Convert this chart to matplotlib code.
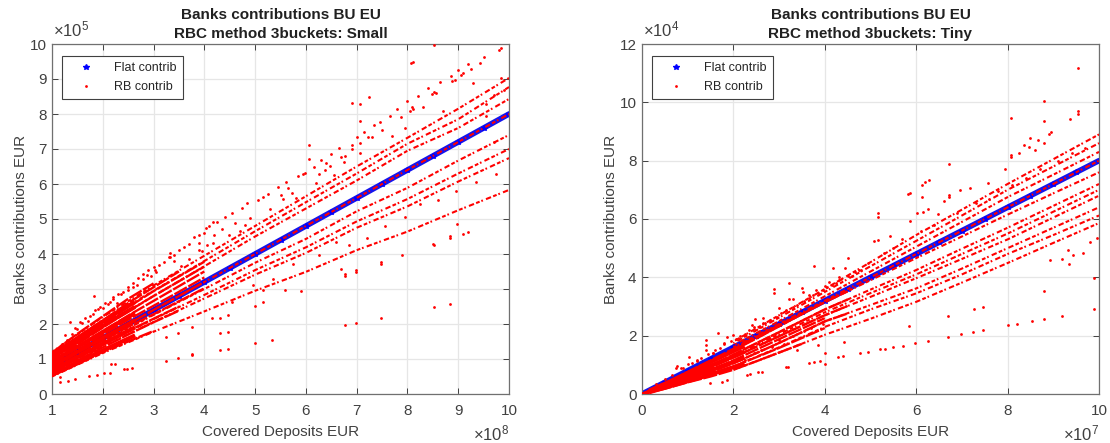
import matplotlib
matplotlib.use("Agg")
import matplotlib.pyplot as plt

plt.rcParams['font.family'] = ['Liberation Sans', 'DejaVu Sans']
plt.rcParams['mathtext.default'] = 'regular'

W, H = 1110, 443
nan = float("nan")

# ---- left panel, x in 1e8, y in 1e5
small_flat_x = [1, 1.5, 2, 2.5, 3, 3.5, 4, 4.5, 5, 5.5, 6, 6.5, 7, 7.5, 8, 8.5, 9, 9.5, 10]
small_flat_y = [0.8, 1.2, 1.6, 2.0, 2.4, 2.8, 3.2, 3.6, 4.0, 4.4, 4.8, 5.2, 5.6, 6.0, 6.4, 6.8, 7.2, 7.6, 8.0]

small_ray_x = [1, 2, 3, 4, 5, 6, 7, 8, 9, 10]
small_rays = [
    [0.50, 1.17, 1.78, 2.36, 2.95, 3.49, 4.11, 4.64, 5.25, 5.83],
    [0.58, 1.35, 2.06, 2.73, 3.41, 4.03, 4.75, 5.36, 6.07, 6.74],
    [0.60, 1.40, 2.14, 2.83, 3.54, 4.19, 4.93, 5.57, 6.30, 7.00],
    [0.64, 1.49, 2.26, 3.00, 3.75, 4.43, 5.22, 5.89, 6.67, 7.40],
    [0.80, 1.60, 2.40, 3.20, 4.00, 4.80, 5.60, 6.40, 7.20, 8.00],
    [1.00, 1.95, 2.80, 3.65, 4.50, 5.30, 6.10, 6.95, 7.60, 8.43],
    [1.10, 2.10, 2.95, 3.80, 4.65, 5.48, 6.30, 7.15, 7.85, 8.77],
    [1.20, 2.20, 3.10, 3.95, 4.80, 5.65, 6.50, 7.32, 8.15, 9.03],
]
small_dense_x = [1, 1.5, 2, 2.5, 3, 3.5, 4]
small_dense = [
    [0.52, 0.85, 1.20, 1.50, 1.80, nan, nan],
    [0.56, 0.95, 1.33, 1.70, 2.05, 2.38, nan],
    [0.60, 1.02, 1.42, 1.80, 2.15, 2.50, nan],
    [0.66, 1.10, 1.52, 1.92, 2.28, 2.65, 3.02],
    [0.72, 1.18, 1.60, 2.00, 2.40, 2.80, 3.20],
    [0.78, 1.25, 1.70, 2.12, 2.52, 2.92, 3.33],
    [0.85, 1.34, 1.80, 2.24, 2.66, 3.08, 3.50],
    [0.92, 1.42, 1.90, 2.36, 2.80, 3.22, 3.64],
    [1.00, 1.52, 2.00, 2.48, 2.94, 3.36, 3.78],
    [1.08, 1.62, 2.10, 2.60, 3.05, 3.50, nan],
    [1.18, 1.72, 2.22, 2.72, 3.16, nan, nan],
]
small_core_x = [1, 1.4, 1.8, 2.2, 2.6]
small_core = [
    [0.55, 0.82, 1.10, 1.38, 1.65],
    [0.68, 0.98, 1.28, 1.58, 1.88],
    [0.80, 1.12, 1.44, 1.76, 2.08],
    [0.92, 1.26, 1.60, 1.94, 2.28],
    [1.04, 1.40, 1.76, 2.12, 2.46],
    [1.12, 1.50, 1.88, 2.26, 2.60],
]
small_x = [8.53, 9.84, 8.10, 8.07, 9.43, 9.26, 9.10, 9.05, 8.93, 8.88, 9.30, 9.84, 8.52, 8.48, 8.56, 7.24, 6.90, 7.06, 7.06,
           8.08, 8.05, 8.11, 7.88, 6.06, 6.06, 5.98, 6.90, 6.90, 7.06, 7.22, 7.31, 7.06, 6.70, 6.78, 6.47, 6.37, 6.26, 5.72, 5.55,
           8.97, 9.10, 9.20, 8.84, 8.84, 8.50, 8.53, 7.89, 7.48, 7.48, 6.98, 6.98, 6.78, 6.78, 6.70, 8.52, 8.84, 7.48, 6.98, 6.78, 5.58, 5.90,
           4.17, 4.03, 4.80, 4.90, 4.48, 3.89, 3.89, 3.32, 3.32, 4.17, 4.05, 3.90, 3.03, 2.87, 2.67, 1.83, 1.75, 1.35, 2.14, 2.28,
           5.00, 5.00, 5.33, 5.16, 5.16, 4.30, 4.46, 4.30, 4.46, 4.30, 4.46, 3.76, 3.76, 3.48, 3.24, 3.76, 3.48, 3.24,
           2.58, 2.47, 2.42, 2.24, 2.16, 2.14, 2.03, 1.89, 1.73, 1.45, 1.32, 1.16, 1.16,
           3.05, 2.95, 2.80, 2.60, 2.50, 2.35, 2.20, 2.05, 1.95, 1.85, 1.65, 1.55, 1.45, 1.25, 3.40, 3.55, 3.70, 3.95, 4.20, 4.35, 4.60, 4.70,
           5.30, 5.50, 5.65, 5.80, 6.20, 6.40, 6.55, 6.75, 7.50, 7.70, 7.95, 8.30, 8.70, 9.55, 9.70, 9.90, 9.55, 9.70,
           1.20, 1.30, 1.40, 1.50, 1.60, 1.70, 1.80, 1.90, 2.00, 2.10, 2.20, 2.30, 2.40, 2.50, 2.60, 2.70, 2.80, 2.90, 3.00, 3.10,
           3.20, 3.30, 3.40, 3.50, 3.60, 3.70, 3.80, 4.00, 4.10, 4.25, 4.40, 4.55, 4.75, 4.85, 5.05, 5.15, 5.25, 5.45, 5.60, 5.85,
           5.95, 6.15, 6.30, 6.50, 6.65, 7.00, 7.15, 7.35, 7.45, 7.65, 7.80, 8.00, 8.20, 8.40, 8.65, 8.85, 9.00, 9.20, 9.50, 9.80,
           4.15, 4.55, 4.95, 5.35, 5.75, 6.25, 6.60, 6.85, 7.20, 7.55, 7.95, 8.25, 8.60, 8.95, 9.35, 9.75]
small_y = [9.98, 9.88, 9.49, 9.46, 9.46, 9.30, 9.16, 9.12, 8.97, 8.94, 8.90, 9.03, 8.63, 8.58, 8.60, 8.48, 8.31, 8.28, 7.81,
           8.20, 8.10, 8.14, 7.92, 7.11, 6.71, 6.31, 7.11, 7.00, 7.17, 7.34, 7.35, 6.88, 6.77, 6.80, 6.51, 6.40, 6.29, 5.75, 5.57,
           4.86, 4.57, 4.63, 4.46, 4.52, 4.29, 4.25, 3.97, 3.77, 3.72, 3.54, 3.50, 3.43, 3.38, 3.57, 2.49, 2.58, 2.18, 2.03, 1.98, 2.97, 2.95,
           4.92, 4.74, 4.83, 5.02, 4.54, 4.54, 4.31, 4.03, 3.91, 4.31, 4.25, 4.12, 3.54, 3.40, 3.11, 2.80, 2.23, 2.07, 2.64, 2.60,
           2.51, 1.47, 1.54, 2.97, 2.64, 2.17, 2.26, 1.74, 1.78, 1.26, 1.29, 1.11, 1.92, 1.03, 0.95, 1.15, 1.74, 1.64,
           0.75, 0.71, 0.71, 0.86, 0.86, 0.61, 0.60, 0.54, 0.51, 0.43, 0.38, 0.34, 0.49,
           3.50, 3.38, 3.28, 3.05, 2.98, 2.85, 2.78, 2.60, 2.50, 2.40, 2.18, 2.05, 1.90, 1.70, 3.80, 3.65, 3.85, 4.10, 4.55, 4.72, 4.90, 4.66,
           5.30, 5.70, 5.88, 5.60, 6.02, 6.60, 6.25, 6.62, 7.55, 7.38, 7.60, 8.20, 8.10, 8.30, 8.55, 8.70, 7.95, 7.20,
           1.42, 1.55, 1.72, 1.85, 2.02, 2.10, 2.30, 2.42, 2.45, 2.58, 2.72, 2.85, 2.92, 3.05, 3.18, 3.32, 3.42, 3.55, 3.62, 3.68,
           3.78, 3.92, 3.98, 4.12, 4.20, 4.30, 4.48, 4.60, 4.80, 4.92, 5.05, 5.18, 5.32, 5.45, 5.55, 5.62, 5.72, 5.92, 6.05, 6.22,
           6.30, 6.50, 6.70, 6.85, 7.02, 7.35, 7.50, 7.68, 7.78, 7.95, 8.15, 8.38, 8.52, 8.75, 8.92, 9.10, 9.25, 9.42, 9.62, 9.82,
           2.18, 2.62, 3.12, 3.28, 3.72, 3.98, 4.35, 4.25, 4.45, 4.80, 5.05, 5.42, 5.55, 5.80, 6.05, 6.30]

# ---- right panel, x in 1e7, y in 1e4
tiny_flat_x = [0, 0.5, 1, 1.5, 2, 2.5, 3, 3.5, 4, 4.5, 5, 5.5, 6, 6.5, 7, 7.5, 8, 8.5, 9, 9.5, 10]
tiny_flat_y = [0, 0.4, 0.8, 1.2, 1.6, 2.0, 2.4, 2.8, 3.2, 3.6, 4.0, 4.4, 4.8, 5.2, 5.6, 6.0, 6.4, 6.8, 7.2, 7.6, 8.0]

tiny_ray_x = [2, 3, 4, 5, 6, 7, 8, 9, 10]
tiny_rays = [
    [0.83, 1.42, 2.03, 2.58, 3.16, 3.82, 4.49, 5.18, 5.86],
    [0.95, 1.60, 2.30, 2.90, 3.45, 4.10, 4.80, 5.45, 6.12],
    [1.05, 1.75, 2.49, 3.05, 3.62, 4.30, 5.00, 5.70, 6.40],
    [1.25, 1.98, 2.70, 3.33, 3.97, 4.63, 5.30, 6.05, 6.80],
    [1.30, 2.05, 2.80, 3.46, 4.10, 4.80, 5.50, 6.25, 7.00],
    [1.35, 2.12, 2.90, 3.58, 4.25, 4.98, 5.70, 6.45, 7.20],
    [1.50, 2.32, 3.15, 3.90, 4.66, 5.40, 6.15, 6.88, 7.60],
    [1.60, 2.40, 3.20, 4.00, 4.80, 5.60, 6.40, 7.20, 8.00],
    [1.67, 2.50, 3.35, 4.20, 5.05, 5.90, 6.75, 7.52, 8.30],
    [1.74, 2.62, 3.50, 4.38, 5.25, 6.12, 7.00, 7.80, 8.60],
    [1.80, 2.70, 3.60, 4.52, 5.45, 6.32, 7.20, 8.05, 8.90],
]
tiny_dense_x = [0, 0.5, 1, 1.5, 2, 2.5, 3, 3.5, 4, 4.5]
tiny_dense = [
    [0, 0.18, 0.40, 0.60, 0.83, 1.12, 1.42, 1.72, nan, nan],
    [0, 0.20, 0.45, 0.68, 0.94, 1.26, 1.58, 1.92, 2.26, nan],
    [0, 0.22, 0.50, 0.75, 1.05, 1.40, 1.75, 2.12, 2.49, 2.76],
    [0, 0.24, 0.54, 0.82, 1.15, 1.52, 1.88, 2.24, 2.60, nan],
    [0, 0.26, 0.58, 0.90, 1.25, 1.62, 1.98, 2.34, 2.70, 3.02],
    [0, 0.29, 0.64, 0.98, 1.35, 1.74, 2.12, 2.51, 2.90, 3.24],
    [0, 0.33, 0.72, 1.10, 1.50, 1.90, 2.32, 2.74, 3.15, 3.52],
    [0, 0.36, 0.76, 1.15, 1.55, 1.96, 2.36, 2.76, nan, nan],
]
tiny_core_x = [0.2, 0.6, 1, 1.4, 1.8, 2.2]
tiny_core = [
    [0.08, 0.26, 0.44, 0.62, 0.82, 1.02],
    [0.10, 0.31, 0.54, 0.76, 0.98, 1.22],
    [0.12, 0.37, 0.64, 0.90, 1.16, 1.42],
    [0.14, 0.42, 0.72, 1.02, 1.32, 1.62],
]
tiny_x = [9.55, 8.80, 9.55, 9.55, 8.80, 9.37, 8.07, 8.95, 8.90, 8.49, 8.67, 8.80, 8.47, 8.35, 8.07, 8.07, 8.25, 8.60, 6.72, 7.94,
          6.28, 6.19, 6.13, 5.86, 5.82, 6.13, 6.72, 6.72, 7.18, 6.96, 7.57, 6.61, 6.26, 6.15, 6.02, 6.48, 5.86, 5.16, 5.16, 5.43, 5.16, 5.08,
          3.76, 4.51, 4.18, 2.89, 2.89, 3.22, 3.22, 3.50, 3.52, 4.30, 4.10, 4.45, 4.00, 1.66, 1.40, 1.40, 1.40, 1.03, 0.77, 2.65, 2.65, 2.48, 1.86,
          3.20, 3.15, 3.66, 3.76, 3.90, 4.00, 4.00, 4.29, 4.40, 4.42, 2.63, 2.54, 2.36, 2.30, 1.86, 1.75, 1.49, 3.85, 3.39,
          5.84, 6.70, 7.26, 7.46, 6.70, 6.98, 7.24, 7.46, 8.00, 8.20, 8.53, 8.80, 9.19, 9.89, 9.89, 8.80,
          6.26, 5.97, 5.71, 5.49, 5.32, 5.21, 4.95, 4.77, 9.34, 9.19, 8.93, 9.43, 9.32, 9.65, 9.80, 9.95,
          4.60, 4.80, 4.95, 5.30, 5.50, 5.70, 6.10, 6.40, 6.90, 7.30, 7.60, 7.80, 8.10, 8.40, 8.70, 9.10, 9.40, 9.70,
          3.00, 3.30, 3.65, 3.80, 4.30, 2.40, 2.00, 1.80, 1.55, 1.20, 0.90,
          0.30, 0.50, 0.65, 0.75, 0.85, 1.00, 1.10, 1.20, 1.30, 1.45, 1.55, 1.60, 1.70, 1.80, 1.95, 2.05, 2.15, 2.25, 2.35, 2.45,
          2.55, 2.70, 2.80, 2.95, 3.05, 3.15, 3.30, 3.40, 3.55, 3.65, 3.75, 3.85, 3.95, 4.05, 4.15, 4.25, 4.35, 4.50, 4.65, 4.75,
          0.80, 0.95, 1.15, 1.25, 1.35, 1.50, 1.65, 1.75, 1.85, 2.10, 2.25, 2.45, 2.60, 2.85, 3.00, 3.10, 3.30, 3.55, 3.70, 3.95]
tiny_y = [11.18, 10.06, 9.70, 9.60, 9.36, 9.42, 9.46, 8.98, 8.93, 8.79, 8.71, 8.60, 8.48, 8.55, 8.19, 8.12, 8.27, 8.35, 7.88, 7.71,
          7.34, 7.28, 7.17, 6.89, 6.85, 6.76, 6.82, 6.75, 7.07, 6.99, 7.23, 6.63, 6.34, 6.25, 6.21, 6.17, 5.94, 6.21, 6.08, 5.43, 5.28, 5.26,
          4.40, 4.66, 4.33, 3.60, 3.46, 3.80, 3.26, 3.63, 3.50, 4.02, 3.85, 4.32, 3.72, 2.10, 1.85, 1.68, 1.51, 1.28, 0.97, 2.60, 2.43, 2.56, 1.95,
          0.94, 0.92, 1.07, 1.11, 1.13, 1.03, 1.42, 1.28, 1.30, 1.78, 0.76, 0.76, 0.69, 0.65, 0.48, 0.42, 0.38, 1.68, 1.51,
          2.33, 2.68, 2.91, 2.98, 1.96, 2.05, 2.12, 2.19, 2.36, 2.40, 2.50, 2.57, 2.68, 2.91, 3.97, 3.53,
          1.83, 1.75, 1.66, 1.61, 1.55, 1.54, 1.44, 1.40, 4.45, 4.63, 4.59, 4.77, 4.94, 4.85, 5.20, 5.35,
          4.05, 4.25, 4.50, 4.85, 5.00, 5.30, 5.60, 5.80, 6.20, 6.55, 6.70, 6.95, 7.15, 7.40, 7.70, 8.00, 8.25, 8.45,
          2.95, 3.25, 3.40, 3.55, 3.90, 2.35, 2.02, 1.75, 1.40, 1.12, 0.88,
          0.36, 0.52, 0.66, 0.90, 0.88, 1.02, 1.08, 1.15, 1.22, 1.38, 1.42, 1.50, 1.58, 1.72, 1.82, 1.88, 2.00, 2.05, 2.18, 2.30,
          2.30, 2.42, 2.55, 2.65, 2.78, 2.88, 2.98, 3.05, 3.20, 3.30, 3.40, 3.45, 3.55, 3.68, 3.75, 3.80, 3.95, 4.05, 4.20, 4.25,
          0.42, 0.50, 0.62, 0.68, 0.74, 0.82, 0.90, 0.98, 1.02, 1.22, 1.18, 1.40, 1.50, 1.62, 1.85, 1.72, 2.00, 2.15, 2.25, 2.40]

panels = [
    {"left": 52, "sub": "Small", "xlim": (1, 10), "ylim": (0, 10),
     "xticks": list(range(1, 11)), "yticks": list(range(0, 11)),
     "xexp": "8", "yexp": "5", "flat": (small_flat_x, small_flat_y),
     "ray_x": small_ray_x, "rays": small_rays, "dense_x": small_dense_x, "dense": small_dense,
     "core_x": small_core_x, "core": small_core, "pts": (small_x, small_y)},
    {"left": 642, "sub": "Tiny", "xlim": (0, 10), "ylim": (0, 12),
     "xticks": list(range(0, 11, 2)), "yticks": list(range(0, 13, 2)),
     "xexp": "7", "yexp": "4", "flat": (tiny_flat_x, tiny_flat_y),
     "ray_x": tiny_ray_x, "rays": tiny_rays, "dense_x": tiny_dense_x, "dense": tiny_dense,
     "core_x": tiny_core_x, "core": tiny_core, "pts": (tiny_x, tiny_y)},
]

fig = plt.figure(figsize=(W / 100, H / 100), dpi=100)
dark = "#404040"

for p in panels:
    ax = fig.add_axes([p["left"] / W, (H - 394) / H, 457 / W, 350 / H])
    fx, fy = p["flat"]
    ax.plot(fx, fy, color="#1414ee", lw=4, solid_capstyle="round", zorder=2)
    ax.plot(fx, fy, "*", color="blue", ms=4, label="Flat contrib", zorder=2)
    for ry in p["core"]:
        ax.plot(p["core_x"], ry, "-", color="red", lw=3, zorder=3)
    for ry in p["dense"]:
        ax.plot(p["dense_x"], ry, color="red", lw=1.7, zorder=3, linestyle=(0, (6, 0.7)))
    for i, ry in enumerate(p["rays"]):
        ax.plot(p["ray_x"], ry, color="red", lw=1.5, zorder=3,
                linestyle=(i * 1.3, (1.8, 0.9, 0.8, 1.6, 2.6, 1.1)))
    ax.plot(p["pts"][0], p["pts"][1], ".", color="red", ms=4, mew=0, label="RB contrib", zorder=3)

    ax.set_xlim(p["xlim"])
    ax.set_ylim(p["ylim"])
    ax.set_xticks(p["xticks"])
    ax.set_yticks(p["yticks"])
    ax.grid(True, color="#e6e6e6", lw=0.9)
    ax.set_axisbelow(True)
    ax.tick_params(direction="in", length=4, width=0.7, colors=dark, labelsize=11, top=True, right=True)
    ax.tick_params(axis="x", pad=7)
    ax.tick_params(axis="y", pad=4)
    for s in ax.spines.values():
        s.set_color("#707070")
        s.set_linewidth(0.9)
    ax.set_xlabel("Covered Deposits EUR", fontsize=11, color=dark, labelpad=5)
    ax.set_ylabel("Banks contributions EUR", fontsize=11, color=dark, labelpad=1)
    ax.set_title("Banks contributions BU EU\nRBC method 3buckets: " + p["sub"],
                 fontsize=11, fontweight="bold", color="#202020", pad=4, linespacing=1.45)
    ax.text(0.002, 1.012, r"$\times 10^{%s}$" % p["yexp"], transform=ax.transAxes, fontsize=12, color=dark, va="bottom")
    ax.text(1.0, -0.085, r"$\times 10^{%s}$" % p["xexp"], transform=ax.transAxes, fontsize=12, color=dark, va="top", ha="right")

    leg = ax.legend(loc="upper left", bbox_to_anchor=(10 / 457, 1 - 12 / 350), borderaxespad=0, fancybox=False,
                    framealpha=1, edgecolor="#404040", fontsize=9, labelcolor="#262626", markerscale=1,
                    handletextpad=0.8, handlelength=2.9, labelspacing=0.55, borderpad=0.5)
    leg.get_frame().set_linewidth(0.8)

fig.savefig("out.png", dpi=100)
